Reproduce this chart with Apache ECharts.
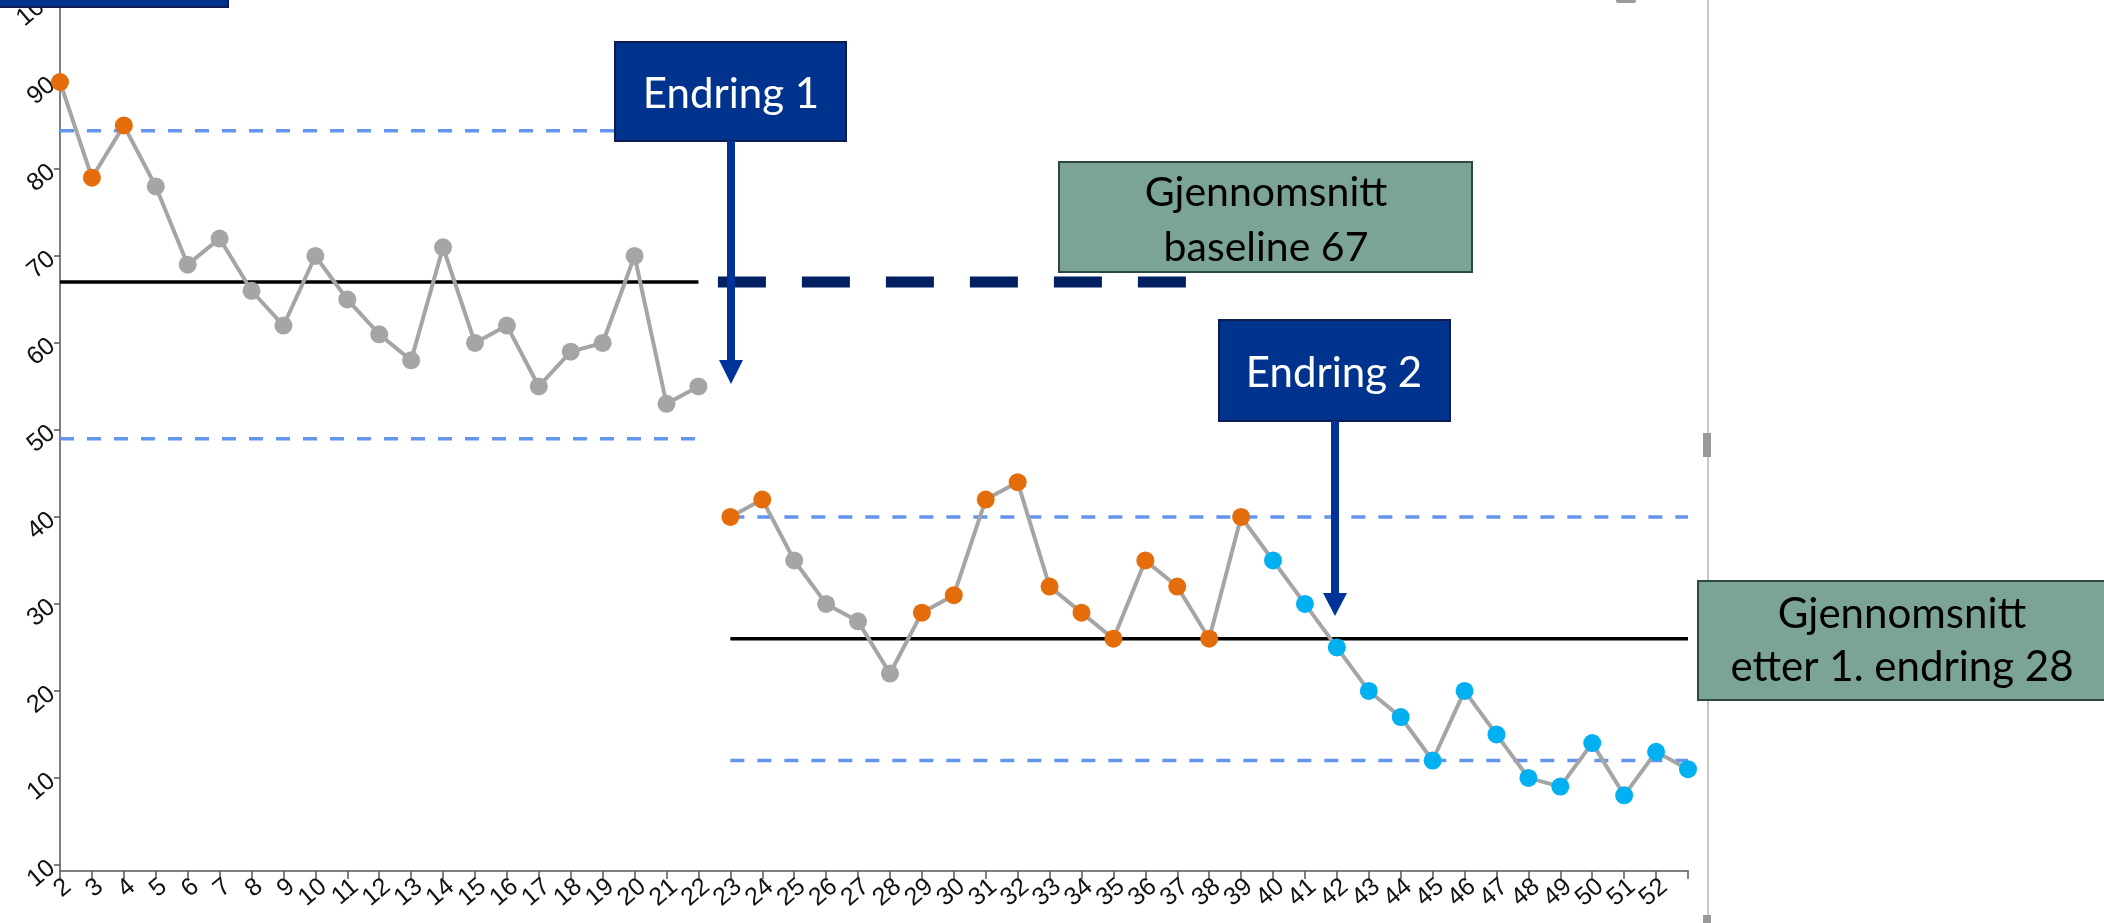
<!DOCTYPE html>
<html>
<head>
<meta charset="utf-8">
<title>Endring 1 og 2</title>
<script src="https://cdn.jsdelivr.net/npm/echarts@6/dist/echarts.min.js"></script>
<style>
  html, body { margin: 0; padding: 0; background: #fff; }
  #chart { width: 2104px; height: 923px; }
</style>
</head>
<body>
<div id="chart"></div>
<script>
// uker på x-aksen (siste tick har ingen tekst)
const weeks = [2, 3, 4, 5, 6, 7, 8, 9, 10, 11, 12, 13, 14, 15, 16, 17, 18, 19, 20, 21, 22,
  23, 24, 25, 26, 27, 28, 29, 30, 31, 32, 33, 34, 35, 36, 37, 38, 39, 40, 41, 42, 43, 44, 45,
  46, 47, 48, 49, 50, 51, 52, 53]
const weekLabels = ['2', '3', '4', '5', '6', '7', '8', '9', '10', '11', '12', '13', '14', '15', '16',
  '17', '18', '19', '20', '21', '22', '23', '24', '25', '26', '27', '28', '29', '30', '31', '32', '33',
  '34', '35', '36', '37', '38', '39', '40', '41', '42', '43', '44', '45', '46', '47', '48', '49', '50',
  '51', '52', '']

// y-akse ticks og teksten slik den står i bildet
const yTicks = [0, 10, 20, 30, 40, 50, 60, 70, 80, 90, 100]
const yTickLabels = ['10', '10', '20', '30', '40', '50', '60', '70', '80', '90', '100']

// baseline, uke 2-22
const baselineValues = [90, 79, 85, 78, 69, 72, 66, 62, 70, 65, 61, 58, 71, 60, 62, 55, 59, 60, 70, 53, 55]
const baselineSignal = ['special', 'special', 'special', 'none', 'none', 'none', 'none', 'none', 'none',
  'none', 'none', 'none', 'none', 'none', 'none', 'none', 'none', 'none', 'none', 'none', 'none']

// etter endring 1, uke 23-53
const phase2Values = [40, 42, 35, 30, 28, 22, 29, 31, 42, 44, 32, 29, 26, 35, 32, 26, 40,
  35, 30, 25, 20, 17, 12, 20, 15, 10, 9, 14, 8, 13, 11]
const phase2Signal = ['special', 'special', 'none', 'none', 'none', 'none', 'special', 'special',
  'special', 'special', 'special', 'special', 'special', 'special', 'special', 'special', 'special',
  'shift', 'shift', 'shift', 'shift', 'shift', 'shift', 'shift', 'shift', 'shift', 'shift', 'shift',
  'shift', 'shift', 'shift']

// gjennomsnitt og kontrollgrenser
const baselineMean = 67
const baselineUcl = 84.4
const baselineLcl = 49
const phase2Mean = 26
const phase2Ucl = 40
const phase2Lcl = 12
// stiplet forlengelse av baseline-snittet
const extensionWeeks = [22.61, 37.31]

const signalColors = { special: '#E46C0A', none: '#A5A5A5', shift: '#00B0F0' }

const baselineWeeks = weeks.slice(0, baselineValues.length)
const phase2Weeks = weeks.slice(baselineValues.length)

function pointData(xs, values, signal) {
  return values.map((v, i) => ({
    value: [xs[i], v],
    itemStyle: { color: signalColors[signal[i]] }
  }))
}

function refLine(x0, x1, y, lineStyle) {
  return {
    type: 'line',
    data: [[x0, y], [x1, y]],
    symbol: 'none',
    silent: true,
    lineStyle: lineStyle,
    z: 1
  }
}

const limitStyle = { color: '#6495ED', width: 3.5, type: [14, 13] }
const meanStyle = { color: '#000', width: 3.5 }

const chart = echarts.init(document.getElementById('chart'))

const navy = '#00338E'
const arrowBlue = '#003399'
const green = '#7BA497'
const boxFont = 'Lato, "Open Sans", sans-serif'
const tickFont = '"Liberation Sans", Arial, sans-serif'

const option = {
  animation: false,
  backgroundColor: '#fff',
  grid: { left: 60, right: 416, top: -5, bottom: 52, containLabel: false, outerBoundsMode: 'none' },
  xAxis: {
    type: 'value',
    min: 2,
    max: 53,
    interval: 1,
    axisLine: { onZero: false, lineStyle: { color: '#7F7F7F', width: 2 } },
    axisTick: { show: true, length: 8, lineStyle: { color: '#555', width: 1.5 } },
    axisLabel: {
      rotate: 40,
      align: 'right',
      verticalAlign: 'top',
      margin: 3,
      fontSize: 25,
      color: '#111',
      fontFamily: tickFont,
      formatter: v => weekLabels[weeks.indexOf(v)]
    },
    splitLine: { show: false }
  },
  yAxis: {
    type: 'value',
    min: -0.7,
    max: 100,
    axisLine: { show: true, lineStyle: { color: '#7F7F7F', width: 2 } },
    axisTick: { show: true, length: 6, customValues: yTicks, lineStyle: { color: '#555', width: 1.5 } },
    axisLabel: {
      customValues: yTicks,
      rotate: 40,
      margin: 8,
      fontSize: 25,
      color: '#111',
      fontFamily: tickFont,
      formatter: v => yTickLabels[yTicks.indexOf(v)]
    },
    splitLine: { show: false }
  },
  series: [
    refLine(baselineWeeks[0], baselineWeeks[baselineWeeks.length - 1], baselineUcl, limitStyle),
    refLine(baselineWeeks[0], baselineWeeks[baselineWeeks.length - 1], baselineLcl, limitStyle),
    refLine(baselineWeeks[0], baselineWeeks[baselineWeeks.length - 1], baselineMean, meanStyle),
    refLine(phase2Weeks[0], phase2Weeks[phase2Weeks.length - 1], phase2Ucl, limitStyle),
    refLine(phase2Weeks[0], phase2Weeks[phase2Weeks.length - 1], phase2Lcl, limitStyle),
    refLine(phase2Weeks[0], phase2Weeks[phase2Weeks.length - 1], phase2Mean, meanStyle),
    refLine(extensionWeeks[0], extensionWeeks[1], baselineMean,
      { color: '#002060', width: 11, type: [48, 36], cap: 'butt' }),
    {
      name: 'Baseline',
      type: 'line',
      data: pointData(baselineWeeks, baselineValues, baselineSignal),
      symbol: 'circle',
      symbolSize: 18,
      lineStyle: { color: '#A5A5A5', width: 4 },
      z: 3
    },
    {
      name: 'Etter endring 1',
      type: 'line',
      data: pointData(phase2Weeks, phase2Values, phase2Signal),
      symbol: 'circle',
      symbolSize: 18,
      lineStyle: { color: '#A5A5A5', width: 4 },
      z: 3
    }
  ],
  graphic: {
    elements: [
      // ramme / håndtak fra lysbildet
      { type: 'line', shape: { x1: 1708, y1: 0, x2: 1708, y2: 923 }, style: { stroke: '#C8C8C8', lineWidth: 2 }, z: 50 },
      { type: 'rect', shape: { x: 1703, y: 433, width: 8, height: 24 }, style: { fill: '#9A9A9A' }, z: 51 },
      { type: 'rect', shape: { x: 1703, y: 915, width: 8, height: 12 }, style: { fill: '#9A9A9A' }, z: 51 },
      { type: 'rect', shape: { x: 1616, y: -4, width: 20, height: 7, r: 2 }, style: { fill: '#9A9A9A' }, z: 51 },
      // tittelboks øverst til venstre (avkuttet)
      { type: 'rect', shape: { x: -4, y: -60, width: 232, height: 67 }, style: { fill: navy, stroke: '#0D1B4F', lineWidth: 2 }, z: 60 },
      // Endring 1
      { type: 'rect', shape: { x: 615, y: 42, width: 231, height: 99 }, style: { fill: navy, stroke: '#0D1B4F', lineWidth: 2 }, z: 60 },
      { type: 'text', x: 731, y: 94, style: { text: 'Endring 1', fill: '#fff', font: '42px ' + boxFont, align: 'center', verticalAlign: 'middle' }, z: 61 },
      { type: 'rect', shape: { x: 727, y: 141, width: 8, height: 221 }, style: { fill: arrowBlue }, z: 60 },
      { type: 'polygon', shape: { points: [[719, 360], [743, 360], [731, 384]] }, style: { fill: arrowBlue }, z: 60 },
      // Gjennomsnitt baseline
      { type: 'rect', shape: { x: 1059, y: 162, width: 413, height: 110 }, style: { fill: green, stroke: '#2E4A40', lineWidth: 2 }, z: 60 },
      { type: 'text', x: 1266, y: 220, style: { text: 'Gjennomsnitt\nbaseline 67', fill: '#000', font: '41px ' + boxFont, lineHeight: 55, align: 'center', verticalAlign: 'middle' }, z: 61 },
      // Endring 2
      { type: 'rect', shape: { x: 1219, y: 320, width: 231, height: 101 }, style: { fill: navy, stroke: '#0D1B4F', lineWidth: 2 }, z: 60 },
      { type: 'text', x: 1334, y: 373, style: { text: 'Endring 2', fill: '#fff', font: '42px ' + boxFont, align: 'center', verticalAlign: 'middle' }, z: 61 },
      { type: 'rect', shape: { x: 1331, y: 421, width: 8, height: 174 }, style: { fill: arrowBlue }, z: 60 },
      { type: 'polygon', shape: { points: [[1323, 593], [1347, 593], [1335, 616]] }, style: { fill: arrowBlue }, z: 60 },
      // Gjennomsnitt etter endring 1
      { type: 'rect', shape: { x: 1698, y: 581, width: 420, height: 119 }, style: { fill: green, stroke: '#2E4A40', lineWidth: 2 }, z: 60 },
      { type: 'text', x: 1902, y: 641, style: { text: 'Gjennomsnitt\netter 1. endring 28', fill: '#000', font: '42px ' + boxFont, lineHeight: 53, align: 'center', verticalAlign: 'middle' }, z: 61 }
    ]
  }
}

chart.setOption(option)
</script>
</body>
</html>
